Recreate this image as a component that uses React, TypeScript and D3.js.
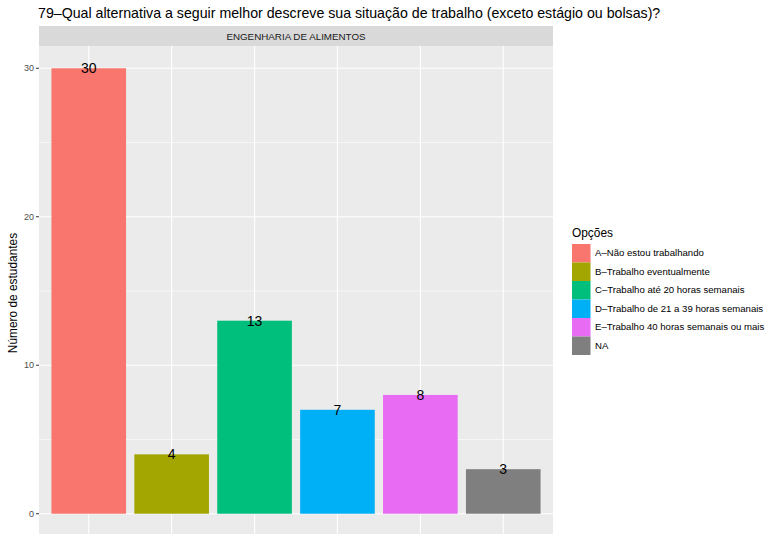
import React from "react";
import * as d3 from "d3";

const categories = ["A", "B", "C", "D", "E", "NA"];
const values = [30, 4, 13, 7, 8, 3];
const legendLabels = [
  "A\u2013Não estou trabalhando",
  "B\u2013Trabalho eventualmente",
  "C\u2013Trabalho até 20 horas semanais",
  "D\u2013Trabalho de 21 a 39 horas semanais",
  "E\u2013Trabalho 40 horas semanais ou mais",
  "NA",
];
const colors = ["#F8766D", "#A3A500", "#00BF7D", "#00B0F6", "#E76BF3", "#7F7F7F"];
const yTicks = [0, 10, 20, 30];
const yMinor = [5, 15, 25];

const W = 767;
const H = 534;
const panel = { left: 39, right: 553, top: 46, bottom: 536 };
const font = "Liberation Sans, Arial, Helvetica, sans-serif";
const keySize = 18.5;

export default function App() {
  const y = d3.scaleLinear().domain([-1.5, 31.5]).range([panel.bottom, panel.top]);
  const x = d3
    .scaleLinear()
    .domain([0.4, categories.length + 0.6])
    .range([panel.left, panel.right]);
  const bw = 0.9;

  return (
    <svg
      width={W}
      height={H}
      style={{ position: "absolute", left: 0, top: 0, background: "#fff" }}
      fontFamily={font}
    >
      <rect x={0} y={0} width={W} height={H} fill="#fff" />
      <text x={38} y={18} fontSize={14.2} fill="#000">
        79{"\u2013"}Qual alternativa a seguir melhor descreve sua situação de trabalho (exceto estágio ou bolsas)?
      </text>
      {/* strip */}
      <rect x={panel.left} y={26} width={panel.right - panel.left} height={20} fill="#D9D9D9" />
      <text
        x={(panel.left + panel.right) / 2}
        y={39.5}
        fontSize={9.8}
        fill="#1A1A1A"
        textAnchor="middle"
      >
        ENGENHARIA DE ALIMENTOS
      </text>
      {/* panel */}
      <rect
        x={panel.left}
        y={panel.top}
        width={panel.right - panel.left}
        height={panel.bottom - panel.top}
        fill="#EBEBEB"
      />
      {yMinor.map((v) => (
        <line
          key={"mn" + v}
          x1={panel.left}
          x2={panel.right}
          y1={y(v)}
          y2={y(v)}
          stroke="#fff"
          strokeWidth={0.55}
        />
      ))}
      {yTicks.map((v) => (
        <line
          key={"mj" + v}
          x1={panel.left}
          x2={panel.right}
          y1={y(v)}
          y2={y(v)}
          stroke="#fff"
          strokeWidth={1.1}
        />
      ))}
      {categories.map((c, i) => (
        <line
          key={"vx" + c}
          x1={x(i + 1)}
          x2={x(i + 1)}
          y1={panel.top}
          y2={panel.bottom}
          stroke="#fff"
          strokeWidth={1.1}
        />
      ))}
      {values.map((v, i) => (
        <rect
          key={"b" + i}
          x={x(i + 1 - bw / 2)}
          y={y(v)}
          width={x(i + 1 + bw / 2) - x(i + 1 - bw / 2)}
          height={y(0) - y(v)}
          fill={colors[i]}
        />
      ))}
      {values.map((v, i) => (
        <text
          key={"t" + i}
          x={x(i + 1)}
          y={y(v) + 5}
          fontSize={14}
          textAnchor="middle"
          fill="#000"
        >
          {v}
        </text>
      ))}
      {/* y axis */}
      {yTicks.map((v) => (
        <g key={"yt" + v}>
          <line
            x1={panel.left - 3}
            x2={panel.left}
            y1={y(v)}
            y2={y(v)}
            stroke="#333"
            strokeWidth={1}
          />
          <text
            x={panel.left - 5}
            y={y(v) + 3.2}
            fontSize={9}
            fill="#4D4D4D"
            textAnchor="end"
          >
            {v}
          </text>
        </g>
      ))}
      <text
        transform={`translate(17, 293) rotate(-90)`}
        fontSize={11.9}
        textAnchor="middle"
        fill="#000"
      >
        Número de estudantes
      </text>
      {/* legend */}
      <text x={572} y={237} fontSize={11.9} fill="#000">
        Opções
      </text>
      {legendLabels.map((l, i) => (
        <g key={"lg" + i}>
          <rect x={572} y={244 + i * keySize} width={keySize} height={keySize} fill={colors[i]} />
          <text x={595} y={244 + i * keySize + 12.4} fontSize={9.6} fill="#000">
            {l}
          </text>
        </g>
      ))}
    </svg>
  );
}
